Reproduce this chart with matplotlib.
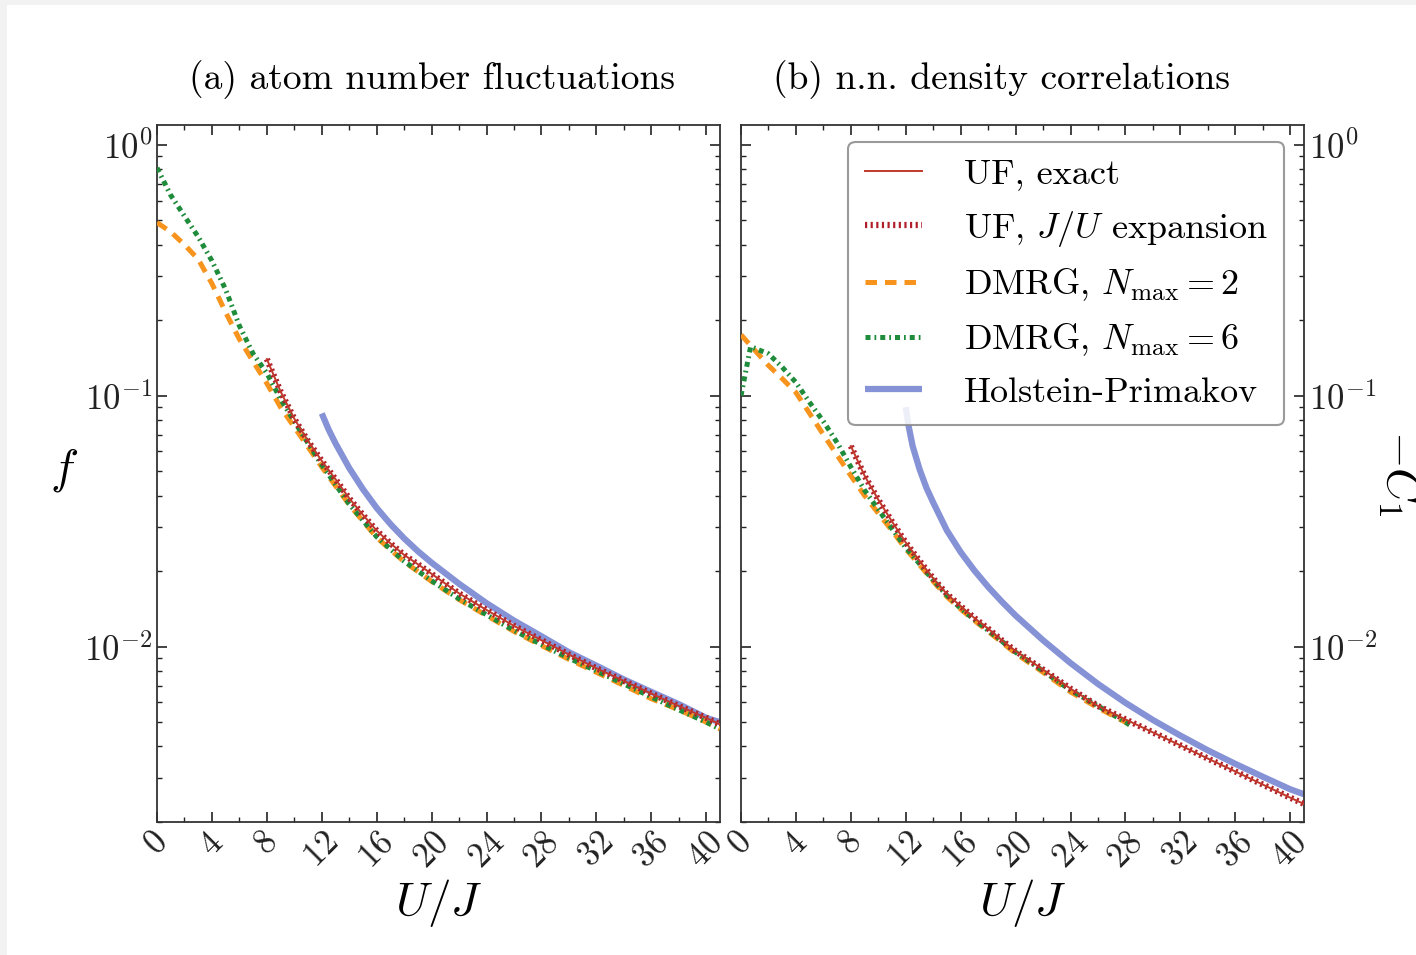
import matplotlib
matplotlib.use('Agg')
import matplotlib.pyplot as plt
from matplotlib.patches import Rectangle

plt.rcParams['font.family'] = 'cmr10'
plt.rcParams['mathtext.fontset'] = 'cm'
plt.rcParams['axes.formatter.use_mathtext'] = True
plt.rcParams['axes.unicode_minus'] = False

# ---- datos panel (a): fluctuaciones del numero de atomos ----
u_a_uf = [8, 9, 10, 11, 12, 13, 14, 15, 16, 17, 18, 19, 20, 22, 24, 26, 28, 30, 32, 34, 36, 38, 40, 41]
f_uf_exact = [0.14, 0.104, 0.081, 0.066, 0.055, 0.0465, 0.039, 0.0335, 0.029, 0.0258, 0.0232, 0.0213,
              0.0195, 0.0163, 0.014, 0.0121, 0.0106, 0.0093, 0.0082, 0.0073, 0.0065, 0.0058, 0.0052, 0.0049]
f_uf_expansion = [0.14, 0.104, 0.081, 0.066, 0.055, 0.0465, 0.039, 0.0335, 0.029, 0.0258, 0.0232, 0.0213,
                  0.0195, 0.0163, 0.014, 0.0121, 0.0106, 0.0093, 0.0082, 0.0073, 0.0065, 0.0058, 0.0052, 0.0049]

u_a_dmrg = [0, 1, 2, 3, 4, 5, 6, 7, 8, 9, 10, 12, 14, 16, 18, 20, 22, 24, 26, 28, 30, 32, 34, 36, 38, 40, 41]
f_dmrg2 = [0.49, 0.45, 0.40, 0.35, 0.28, 0.215, 0.168, 0.137, 0.112, 0.09, 0.075, 0.052, 0.0368, 0.0272,
           0.0218, 0.0182, 0.0154, 0.0133, 0.0115, 0.0101, 0.0089, 0.0079, 0.007, 0.0062, 0.0056, 0.005, 0.0047]
f_dmrg6 = [0.81, 0.63, 0.52, 0.43, 0.345, 0.265, 0.19, 0.147, 0.123, 0.097, 0.079, 0.053, 0.037, 0.0274,
           0.0219, 0.0183, 0.0155, 0.0134, 0.0116, 0.0102, 0.009, 0.008, 0.0071, 0.0063, 0.0056, 0.005, 0.0047]

u_a_hp = [12, 12.5, 13, 14, 15, 16, 17, 18, 19, 20, 22, 24, 26, 28, 30, 32, 34, 36, 38, 40, 41]
f_hp = [0.085, 0.0733, 0.0646, 0.0515, 0.0424, 0.0357, 0.0308, 0.027, 0.024, 0.0216, 0.0178, 0.0149,
        0.0127, 0.011, 0.0095, 0.0084, 0.0074, 0.0066, 0.0059, 0.0052, 0.005]

# ---- datos panel (b): correlaciones de densidad n.n. ----
u_b_uf = [8, 9, 10, 11, 12, 13, 14, 15, 16, 17, 18, 19, 20, 22, 24, 26, 28, 30, 32, 34, 36, 38, 40, 41]
c_uf_exact = [0.063, 0.048, 0.0385, 0.0315, 0.026, 0.022, 0.0187, 0.0162, 0.0145, 0.013, 0.0118, 0.0106,
              0.0096, 0.0081, 0.0068, 0.0058, 0.00513, 0.00455, 0.00404, 0.00358, 0.00318, 0.00282,
              0.0025, 0.00236]
c_uf_expansion = [0.063, 0.048, 0.0385, 0.0315, 0.026, 0.022, 0.0187, 0.0162, 0.0145, 0.013, 0.0118, 0.0106,
                  0.0096, 0.0081, 0.0068, 0.0058, 0.00513, 0.00455, 0.00404, 0.00358, 0.00318, 0.00282,
                  0.0025, 0.00236]

u_b_dmrg2 = [0, 1, 2, 3, 4, 5, 6, 7, 8, 9, 10, 11, 12, 13, 14, 15, 16, 17, 18, 20, 22, 24, 26, 28, 28.5]
c_dmrg2 = [0.175, 0.152, 0.132, 0.117, 0.103, 0.085, 0.07, 0.058, 0.048, 0.04, 0.034, 0.029, 0.0245, 0.0212,
           0.0182, 0.0158, 0.0141, 0.0127, 0.0115, 0.0094, 0.0079, 0.0066, 0.0057, 0.005, 0.0048]
u_b_dmrg6 = [0, 0.7, 2, 3, 4, 5, 6, 7, 8, 9, 10, 11, 12, 13, 14, 15, 16, 17, 18, 20, 22, 24, 26, 28, 28.5]
c_dmrg6 = [0.1, 0.157, 0.147, 0.13, 0.113, 0.094, 0.079, 0.065, 0.052, 0.042, 0.0352, 0.0295, 0.0248, 0.0214,
           0.0184, 0.016, 0.0142, 0.0128, 0.0116, 0.0095, 0.008, 0.0067, 0.0058, 0.005, 0.0048]

u_b_hp = [12, 12.2, 12.5, 13, 13.5, 14, 15, 16, 17, 18, 19, 20, 22, 24, 26, 28, 30, 32, 34, 36, 38, 40, 41]
c_hp = [0.09, 0.076, 0.063, 0.051, 0.043, 0.0375, 0.029, 0.0238, 0.0201, 0.0173, 0.0151, 0.0133, 0.0106,
        0.0086, 0.0071, 0.00597, 0.0051, 0.00442, 0.00386, 0.00341, 0.00303, 0.0027, 0.00258]

# estilos
c_red = '#c0392b'
c_red_dot = '#b0202a'
c_orange = '#f7941d'
c_green = '#1e8c3a'
c_blue = '#8592d6'

fig = plt.figure(figsize=(14.16, 9.55), dpi=100)
fig.patch.set_facecolor('#f2f2f2')
fig.patches.append(Rectangle((7 / 1416, 0), 1, 1 - 5 / 955, transform=fig.transFigure,
                             facecolor='white', edgecolor='none', zorder=-10))

ax1 = fig.add_axes([157 / 1416, 133 / 955, 563 / 1416, 697 / 955])
ax2 = fig.add_axes([741 / 1416, 133 / 955, 563 / 1416, 697 / 955])


def plot_panel(ax, u_uf, y_exact, y_exp, u_d2, y_d2, u_d6, y_d6, u_hp, y_hp):
    ax.plot(u_hp, y_hp, color=c_blue, lw=4.5, solid_capstyle='butt', zorder=2, label='Holstein-Primakov')
    ax.plot(u_d2, y_d2, color=c_orange, lw=3.6, dashes=(2.3, 1.6), zorder=3,
            label=r'DMRG, $N_\mathrm{max}=2$')
    ax.plot(u_d6, y_d6, color=c_green, lw=3.6, dashes=(1.0, 0.8, 0.35, 0.8), zorder=3,
            label=r'DMRG, $N_\mathrm{max}=6$')
    ax.plot(u_uf, y_exp, color=c_red_dot, lw=4.5, dashes=(0.35, 0.55), zorder=4,
            label=r'UF, $J/U$ expansion')
    ax.plot(u_uf, y_exact, color=c_red, lw=1.4, zorder=5, label='UF, exact')

    ax.set_yscale('log')
    ax.set_xlim(0, 41)
    ax.set_ylim(0.002, 1.2)
    ax.set_xticks(range(0, 41, 4))
    ax.set_xticks(range(2, 41, 4), minor=True)
    ax.tick_params(which='both', direction='in', top=True, right=True, labelsize=25, colors='#222222')
    ax.tick_params(which='major', length=7, width=1.2)
    ax.tick_params(which='minor', length=3.5, width=1.0)
    for lbl in ax.get_xticklabels():
        lbl.set_rotation(45)
        lbl.set_ha('center')
    for s in ax.spines.values():
        s.set_color('#333333')
        s.set_linewidth(1.3)
    ax.set_xlabel(r'$U/J$', fontsize=34, labelpad=2)


plot_panel(ax1, u_a_uf, f_uf_exact, f_uf_expansion, u_a_dmrg, f_dmrg2, u_a_dmrg, f_dmrg6, u_a_hp, f_hp)
plot_panel(ax2, u_b_uf, c_uf_exact, c_uf_expansion, u_b_dmrg2, c_dmrg2, u_b_dmrg6, c_dmrg6, u_b_hp, c_hp)

ax1.set_ylabel(r'$f$', fontsize=34, rotation=0, va='center')
ax1.yaxis.set_label_coords(-0.165, 0.505)
ax2.tick_params(which='both', labelleft=False, labelright=True)
ax2.set_ylabel(r'$-C_1$', fontsize=34, rotation=270, va='center')
ax2.yaxis.set_label_position('right')
ax2.yaxis.set_label_coords(1.21, 0.5)

ax1.set_title('(a) atom number fluctuations', fontsize=27, pad=26, x=0.488)
ax2.set_title('(b) n.n. density correlations', fontsize=27, pad=26, x=0.462)

handles, labels = ax2.get_legend_handles_labels()
order = [4, 3, 1, 2, 0]
leg = ax2.legend([handles[i] for i in order], [labels[i] for i in order],
                 loc='upper right', bbox_to_anchor=(0.9645, 0.9756), borderaxespad=0,
                 fontsize=26, handlelength=1.58, handletextpad=1.16, labelspacing=0.5,
                 borderpad=0.45, fancybox=True, framealpha=0.85, edgecolor='#888888')
leg.get_frame().set_linewidth(1.5)
leg.set_zorder(10)

plt.savefig('out.png', dpi=100)
